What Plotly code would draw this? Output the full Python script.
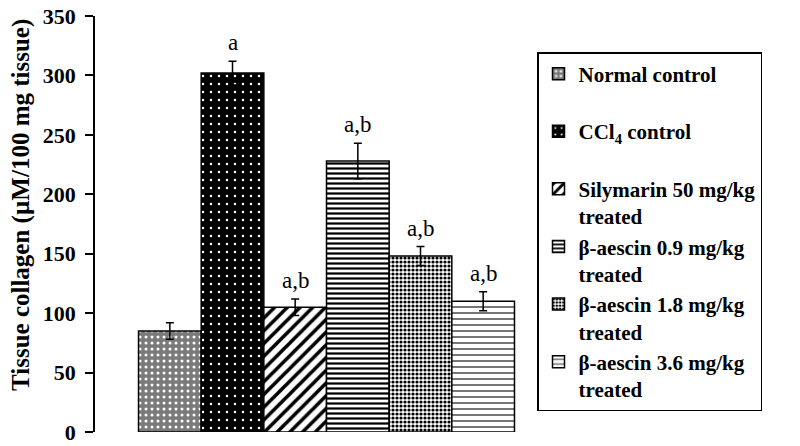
import plotly.graph_objects as go

groups = ["Normal control", "CCl<sub>4</sub> control", "Silymarin 50 mg/kg<br>treated",
          "β-aescin 0.9 mg/kg<br>treated", "β-aescin 1.8 mg/kg<br>treated",
          "β-aescin 3.6 mg/kg<br>treated"]
collagen = [85, 302, 105, 228, 148, 110]
sem = [7, 10, 7, 15, 8, 8]
letters = ["", "a", "a,b", "a,b", "a,b", "a,b"]

# pattern per group: (shape, fg, bg, size, solidity)
patterns = [
    (".", "white", "#7a7a7a", 6, 0.2),
    (".", "white", "black", 8, 0.08),
    ("/", "black", "white", 9, 0.4),
    ("-", "black", "white", 5, 0.45),
    (".", "black", "white", 4, 0.5),
    ("-", "#666666", "white", 6, 0.3),
]

serif = "Liberation Serif"
fig = go.Figure()
for i, name in enumerate(groups):
    shp, fg, bg, sz, sol = patterns[i]
    # single-line entries padded so every legend slot has the same height
    label = name if "<br>" in name else name + "<br> "
    fig.add_trace(go.Bar(
        x=["Tissue"], y=[collagen[i]], name=label,
        marker=dict(color=bg, line=dict(color="black", width=1.5),
                    pattern=dict(shape=shp, fgcolor=fg, bgcolor=bg, size=sz,
                                 solidity=sol, fillmode="replace")),
        error_y=dict(type="data", array=[sem[i]], color="black", thickness=1.5, width=4),
    ))

# page has an 8px body margin, so the figure is 8px smaller and shifted
W, H = 792, 438
L, R, T, B = 87, 242, 8, 14
pw, ph = W - L - R, H - T - B

fig.update_layout(
    barmode="group", bargap=0.188, bargroupgap=0,
    width=W, height=H,
    margin=dict(l=L, r=R, t=T, b=B, autoexpand=False),
    plot_bgcolor="white", paper_bgcolor="white",
    font=dict(family=serif, color="black"),
    showlegend=True,
    legend=dict(x=(529 - L) / pw, xanchor="left", y=(H - B - 44) / ph, yanchor="top",
                bordercolor="black", borderwidth=1.5, bgcolor="white",
                font=dict(family=serif, size=21, weight="bold"),
                entrywidth=260, entrywidthmode="pixels",
                valign="top", tracegroupgap=0, traceorder="normal"),
)
fig.update_xaxes(visible=False)
fig.update_yaxes(range=[0, 350], dtick=50, showgrid=False, zeroline=False,
                 showline=True, linecolor="black", linewidth=1.5,
                 ticks="outside", ticklen=8, tickwidth=1.5, tickcolor="black",
                 ticklabelstandoff=5, ticklabeloverflow="allow",
                 tickfont=dict(family=serif, size=22, weight="bold"))

# y-axis title as a rotated annotation, centred where the reference has it
fig.add_annotation(x=(13 - L) / pw, y=(H - B - 197) / ph, xref="paper", yref="paper",
                   text="Tissue collagen (µM/100 mg tissue)", textangle=-90,
                   showarrow=False, xanchor="center", yanchor="middle",
                   font=dict(family=serif, size=25, weight="bold", color="black"))

# significance letters above the error bars
n = len(groups)
grp_w = 1 - 0.188
for i in range(n):
    if letters[i]:
        fig.add_annotation(x=-grp_w / 2 + grp_w * (i + 0.5) / n, y=collagen[i] + sem[i],
                           xref="x", yref="y", text=letters[i], showarrow=False,
                           yanchor="bottom", yshift=4,
                           font=dict(family=serif, size=23, color="black"))

fig.write_html("out.html")
